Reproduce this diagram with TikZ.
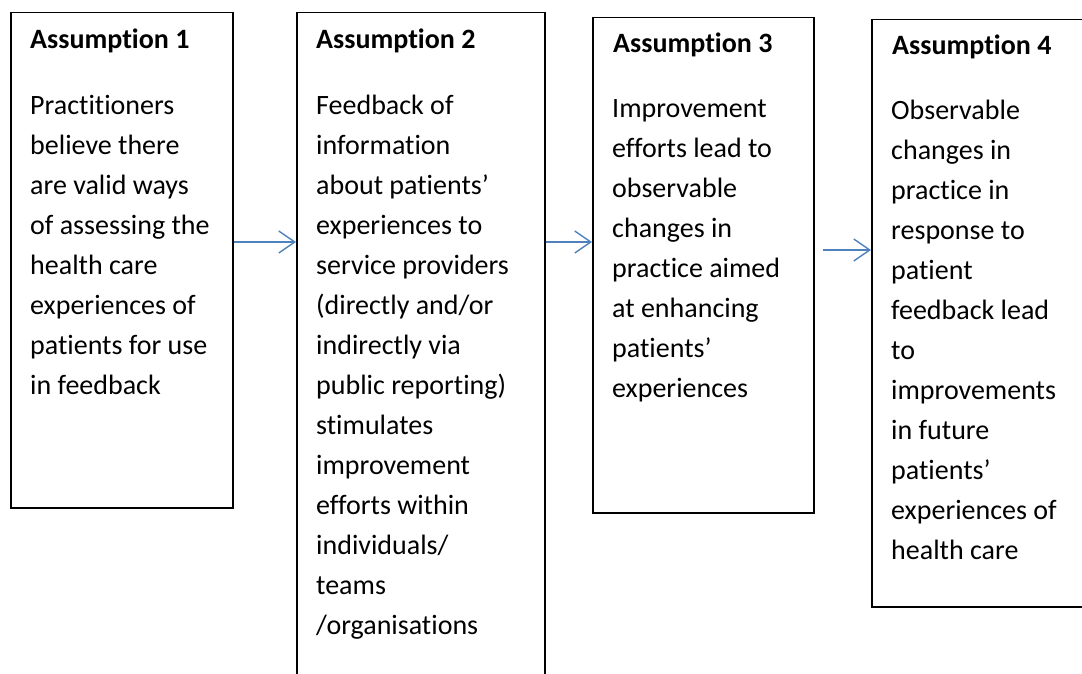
\documentclass[tikz,border=0pt]{standalone}
\usepackage{fontspec}
\setmainfont{Carlito}[Ligatures=NoCommon]
\usetikzlibrary{arrows.meta}
\definecolor{arrowblue}{HTML}{4F81BD}
\tikzset{
  box/.style={draw=black, line width=1.5pt, rectangle, anchor=north west, inner sep=0pt},
  title/.style={anchor=base west, inner sep=0pt, font=\fontsize{28}{40}\selectfont\bfseries},
  body/.style={anchor=base west, inner sep=0pt, font=\fontsize{28}{40}\selectfont},
  arr/.style={draw=arrowblue, line width=1.4pt, -{Straight Barb[length=16pt,width=22pt,line width=1.4pt]}}
}
\newcommand{\linesof}[1]{\begin{tabular}[t]{@{}l@{}}#1\end{tabular}}
\begin{document}
\begin{tikzpicture}[x=1pt,y=-1pt]
\useasboundingbox (0,0) rectangle (1082,674);
\clip (0,0) rectangle (1082,674);
% boxes
\node[box, minimum width=222pt, minimum height=495pt] (b1) at (10,12) {};
\node[box, minimum width=248pt, minimum height=690pt] (b2) at (296,12) {};
\node[box, minimum width=221pt, minimum height=495pt] (b3) at (592,17) {};
\node[box, minimum width=220pt, minimum height=587pt] (b4) at (871,19) {};
% titles
\node[title] (t1) at (30,49) {Assumption 1};
\node[title] (t2) at (316,49) {Assumption 2};
\node[title] (t3) at (613,53) {Assumption 3};
\node[title] (t4) at (892,55) {Assumption 4};
% bodies
\node[body] (x1) at (30,115) {\linesof{Practitioners\\believe there\\are valid ways\\of assessing the\\health care\\experiences of\\patients for use\\in feedback}};
\node[body] (x2) at (316,115) {\linesof{Feedback of\\information\\about patients’\\experiences to\\service providers\\(directly and/or\\indirectly via\\public reporting)\\stimulates\\improvement\\efforts within\\individuals/\\teams\\/organisations}};
\node[body] (x3) at (612,118) {\linesof{Improvement\\efforts lead to\\observable\\changes in\\practice aimed\\at enhancing\\patients’\\experiences}};
\node[body] (x4) at (891,120) {\linesof{Observable\\changes in\\practice in\\response to\\patient\\feedback lead\\to\\improvements\\in future\\patients’\\experiences of\\health care}};
% connectors
\coordinate (a1s) at (b1.east |- 0,242);
\coordinate (a1e) at (b2.west |- 0,242);
\coordinate (a2s) at (b2.east |- 0,242);
\coordinate (a2e) at (b3.west |- 0,242);
\coordinate (a3s) at ([xshift=8pt]b3.east |- 0,250);
\coordinate (a3e) at (b4.west |- 0,250);
\draw[arr] (a1s) -- (a1e);
\draw[arr] (a2s) -- (a2e);
\draw[arr] (a3s) -- (a3e);
\end{tikzpicture}
\end{document}
